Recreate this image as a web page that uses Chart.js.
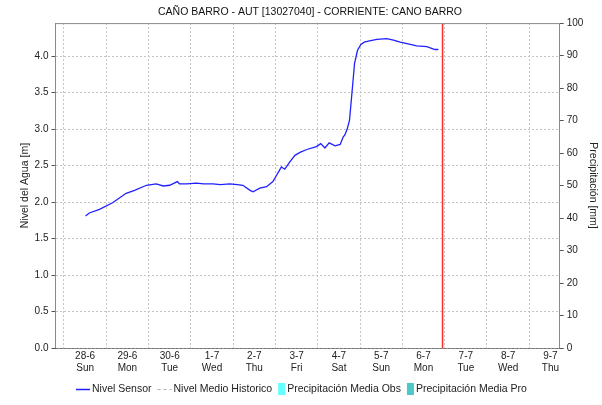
<!DOCTYPE html>
<html>
<head>
<meta charset="utf-8">
<script src="https://cdn.jsdelivr.net/npm/chart.js@4"></script>
<style>
    html, body { margin: 0; padding: 0; background: #fff; }
    #wrap { width: 602px; height: 405px; }
</style>
</head>
<body>
<div id="wrap"><canvas id="chart"></canvas></div>
<script>
// tick labels of the time axis (one per day, day 0 = 28-6)
const dayLabels = ['28-6', '29-6', '30-6', '1-7', '2-7', '3-7', '4-7', '5-7', '6-7', '7-7', '8-7', '9-7']
const dayNames = ['Sun', 'Mon', 'Tue', 'Wed', 'Thu', 'Fri', 'Sat', 'Sun', 'Mon', 'Tue', 'Wed', 'Thu']

// Nivel Sensor: time in days since 28-6 00:00, level in m
const sensorDays = [0.01, 0.10, 0.34, 0.65, 0.97, 1.17, 1.45, 1.68, 1.85, 2.00, 2.18, 2.23, 2.40, 2.63, 2.80,
    3.02, 3.20, 3.42, 3.60, 3.73, 3.90, 3.97, 4.13, 4.29, 4.44, 4.53, 4.58, 4.64, 4.72, 4.84, 4.96, 5.08,
    5.24, 5.47, 5.57, 5.67, 5.77, 5.91, 6.03, 6.10, 6.14, 6.19, 6.25, 6.30, 6.37, 6.44, 6.52, 6.60, 6.72,
    6.90, 7.13, 7.29, 7.45, 7.61, 7.84, 8.08, 8.27, 8.35]
const sensorLevel = [1.81, 1.85, 1.90, 1.99, 2.12, 2.16, 2.23, 2.25, 2.22, 2.23, 2.28, 2.25, 2.25, 2.26, 2.25,
    2.25, 2.24, 2.25, 2.24, 2.23, 2.16, 2.14, 2.19, 2.21, 2.28, 2.37, 2.42, 2.48, 2.45, 2.55, 2.64, 2.68,
    2.72, 2.76, 2.80, 2.74, 2.81, 2.77, 2.79, 2.89, 2.92, 2.99, 3.12, 3.44, 3.90, 4.08, 4.16, 4.19, 4.21,
    4.23, 4.24, 4.22, 4.19, 4.17, 4.14, 4.13, 4.09, 4.09]

// Nivel Medio Historico and precipitation series: no values in this view
const historicDays = []
const historicLevel = []
const precipObs = []
const precipPro = []

// current time marker (days since 28-6)
const nowDay = [8.45]

const levelRange = [0, 4.452]
const precipRange = [0, 100]
const dayRange = [-0.70, 11.22]

const fontFamily = "'Liberation Sans', Arial, sans-serif"
Chart.defaults.font.family = fontFamily
Chart.defaults.font.size = 10
Chart.defaults.color = '#222'

const gridDash = [2, 2]
const gridColor = '#c4c4c4'
const frameColor = '#8a8a8a'

const chartFrame = {
    id: 'chartFrame',
    afterDatasetsDraw(chart) {
        const { ctx, chartArea, scales } = chart
        ctx.save()
        // now line
        const xNow = scales.x.getPixelForValue(nowDay[0])
        ctx.strokeStyle = '#ff2a2a'
        ctx.lineWidth = 1.5
        ctx.beginPath()
        ctx.moveTo(xNow, chartArea.top)
        ctx.lineTo(xNow, chartArea.bottom)
        ctx.stroke()
        // top border
        ctx.strokeStyle = frameColor
        ctx.lineWidth = 1
        ctx.beginPath()
        ctx.moveTo(chartArea.left, chartArea.top + 0.5)
        ctx.lineTo(chartArea.right, chartArea.top + 0.5)
        ctx.stroke()
        // dotted bottom axis
        ctx.strokeStyle = '#222'
        ctx.setLineDash([1, 1])
        ctx.beginPath()
        ctx.moveTo(chartArea.left, Math.round(chartArea.bottom) + 0.5)
        ctx.lineTo(chartArea.right, Math.round(chartArea.bottom) + 0.5)
        ctx.stroke()
        ctx.restore()
    },
    afterDraw(chart) {
        // legend row under the chart
        const { ctx } = chart
        const items = chart.data.datasets.map(ds => ({
            label: ds.label,
            kind: ds.type === 'bar' ? 'box' : 'line',
            color: ds.type === 'bar' ? ds.backgroundColor : ds.borderColor,
            dash: ds.borderDash || []
        }))
        ctx.save()
        ctx.font = '10.5px ' + fontFamily
        ctx.textBaseline = 'middle'
        const symW = it => it.kind === 'line' ? 14 : 7
        let total = 0
        items.forEach((it, i) => {
            total += symW(it) + 2 + ctx.measureText(it.label).width + (i < items.length - 1 ? 6 : 0)
        })
        let x = Math.round((chart.width - total) / 2)
        const y = 389
        items.forEach(it => {
            if (it.kind === 'line') {
                ctx.strokeStyle = it.color
                ctx.lineWidth = it.dash.length ? 1 : 1.5
                ctx.setLineDash(it.dash)
                ctx.beginPath()
                ctx.moveTo(x, y + 0.5)
                ctx.lineTo(x + 14, y + 0.5)
                ctx.stroke()
                ctx.setLineDash([])
            } else {
                ctx.fillStyle = it.color
                ctx.fillRect(x, y - 6, 7, 12)
            }
            x += symW(it) + 2
            ctx.fillStyle = '#222'
            ctx.fillText(it.label, x, y)
            x += ctx.measureText(it.label).width + 6
        })
        ctx.restore()
    }
}

const ctx = document.getElementById('chart')

new Chart(ctx, {
    data: {
        datasets: [
            {
                type: 'line', label: 'Nivel Sensor', yAxisID: 'y',
                data: sensorDays.map((d, i) => ({ x: d, y: sensorLevel[i] })),
                borderColor: '#2020ff', borderWidth: 1.3, pointRadius: 0, tension: 0
            },
            {
                type: 'line', label: 'Nivel Medio Historico', yAxisID: 'y',
                data: historicDays.map((d, i) => ({ x: d, y: historicLevel[i] })),
                borderColor: '#b4b4b4', borderWidth: 1, borderDash: [3, 3], pointRadius: 0
            },
            {
                type: 'bar', label: 'Precipitación Media Obs', yAxisID: 'y2',
                data: precipObs, backgroundColor: '#66ffff'
            },
            {
                type: 'bar', label: 'Precipitación Media Pro', yAxisID: 'y2',
                data: precipPro, backgroundColor: '#4cc8c8'
            }
        ]
    },
    options: {
        responsive: true,
        maintainAspectRatio: false,
        animation: false,
        layout: {
            padding: { left: 19, right: 1, top: 0, bottom: 29 }
        },
        plugins: {
            legend: { display: false },
            tooltip: { enabled: false },
            title: {
                display: true,
                text: 'CAÑO BARRO - AUT [13027040] - CORRIENTE: CANO BARRO',
                font: { size: 10.5, weight: 'normal' },
                color: '#111',
                padding: { top: 5.5, bottom: 5 }
            }
        },
        scales: {
            x: {
                type: 'linear',
                offset: false,
                min: dayRange[0], max: dayRange[1],
                grid: { color: gridColor, drawTicks: false },
                border: { display: false, dash: gridDash },
                ticks: {
                    stepSize: 1, includeBounds: false, autoSkip: false, maxRotation: 0, padding: 2,
                    callback: v => Number.isInteger(v) && v >= 0 ? [dayLabels[v], dayNames[v]] : ''
                }
            },
            y: {
                position: 'left',
                min: levelRange[0], max: levelRange[1],
                grid: { color: gridColor, tickColor: '#555', tickLength: 4, tickBorderDash: [] },
                border: { color: frameColor, dash: gridDash },
                ticks: { stepSize: 0.5, includeBounds: false, padding: 3, callback: v => v.toFixed(1) },
                title: { display: true, text: 'Nivel del Agua [m]', font: { size: 10.5 }, padding: { top: 0, bottom: 0 } }
            },
            y2: {
                position: 'right',
                min: precipRange[0], max: precipRange[1],
                grid: { drawOnChartArea: false, tickColor: '#555', tickLength: 4 },
                border: { color: frameColor },
                ticks: { stepSize: 10, padding: 3 },
                title: { display: true, text: 'Precipitación [mm]', font: { size: 10.5 }, padding: { top: 2, bottom: 0 } }
            }
        }
    },
    plugins: [chartFrame]
})
</script>
</body>
</html>
